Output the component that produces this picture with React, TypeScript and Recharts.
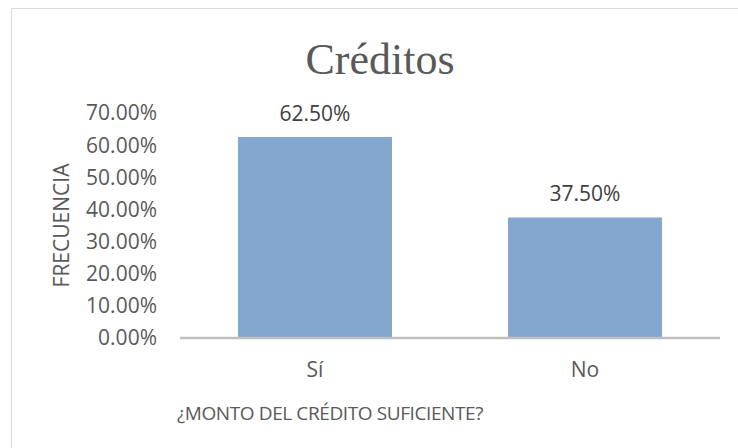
import React from 'react';
import { BarChart, Bar, XAxis, YAxis, LabelList } from 'recharts';

// answers to "¿monto del crédito suficiente?"
const categories = ['Sí', 'No'];
const shares = [0.625, 0.375];
const yTicks = [0, 0.1, 0.2, 0.3, 0.4, 0.5, 0.6, 0.7];

const data = categories.map((name, i) => ({ name, value: shares[i] }));

const pct = (v: number) => `${(v * 100).toFixed(2)}%`;

const textColor = '#595959';
const font = '"Open Sans", sans-serif';

const App: React.FC = () => {
  return (
    <div style={{ position: 'absolute', left: 0, top: 0, width: 738, height: 448, overflow: 'hidden', background: '#fff' }}>
      <div
        style={{
          position: 'absolute',
          left: 11,
          top: 8,
          width: 800,
          height: 500,
          border: '1.5px solid #D9D9D9',
        }}
      />
      <div
        style={{
          position: 'absolute',
          left: 230,
          top: 38,
          width: 300,
          textAlign: 'center',
          fontFamily: '"Liberation Serif", serif',
          fontSize: 44,
          lineHeight: '44px',
          color: textColor,
        }}
      >
        Créditos
      </div>
      <BarChart
        width={738}
        height={448}
        data={data}
        margin={{ top: 113, right: 18, left: 0, bottom: 0 }}
        barCategoryGap={58}
        style={{ position: 'absolute', left: 0, top: 0, fontFamily: font }}
      >
        <XAxis
          dataKey="name"
          height={110}
          axisLine={{ stroke: '#BFBFBF', strokeWidth: 2.5 }}
          tickLine={false}
          tickSize={0}
          tickMargin={24}
          tick={{ fill: textColor, fontSize: 21 }}
          label={{
            value: '¿MONTO DEL CRÉDITO SUFICIENTE?',
            position: 'insideBottomLeft',
            offset: 28,
            dx: -31,
            fill: textColor,
            fontSize: 19,
            letterSpacing: -0.4,
          }}
        />
        <YAxis
          width={180}
          domain={[0, 0.7]}
          ticks={yTicks}
          tickFormatter={pct}
          axisLine={false}
          tickLine={false}
          tickSize={0}
          tickMargin={23}
          tick={{ fill: textColor, fontSize: 21 }}
          label={{
            value: 'FRECUENCIA',
            angle: -90,
            position: 'insideLeft',
            offset: 62,
            fill: textColor,
            fontSize: 21,
            style: { textAnchor: 'middle' },
          }}
        />
        <Bar dataKey="value" fill="#84A7CF" isAnimationActive={false}>
          <LabelList dataKey="value" position="top" offset={16} formatter={(v: any) => pct(Number(v))} fill="#404040" fontSize={21} />
        </Bar>
      </BarChart>
    </div>
  );
};

export default App;
